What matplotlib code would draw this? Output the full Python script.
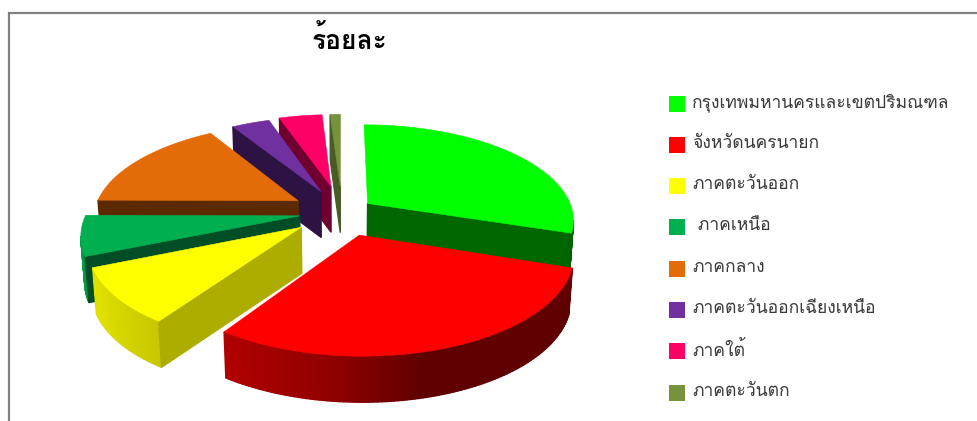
import numpy as np
import matplotlib
matplotlib.use("Agg")
import matplotlib.pyplot as plt
from matplotlib.patches import Polygon, Rectangle

plt.rcParams['font.family'] = ['Loma', 'Noto Sans Thai', 'DejaVu Sans']

title = "ร้อยละ"
labels = ["กรุงเทพมหานครและเขตปริมณฑล", "จังหวัดนครนายก", "ภาคตะวันออก", " ภาคเหนือ",
          "ภาคกลาง", "ภาคตะวันออกเฉียงเหนือ", "ภาคใต้", "ภาคตะวันตก"]
# percent of the pie
shares = [30.0, 29.5, 9.2, 6.4, 16.1, 3.6, 4.2, 1.0]
colors = ["#00ff00", "#ff0000", "#ffff00", "#00b050", "#e36c09", "#7030a0", "#ff0066", "#76923c"]
side_colors = ["#006600", "#600000", "#adad00", "#004d26", "#5b2a00", "#2c1343", "#700030", "#4a5c25"]
explode = [0.15, 0.24, 0.24, 0.20, 0.24, 0.24, 0.28, 0.27]
radius = [0.96, 0.95, 0.95, 0.995, 0.955, 0.945, 0.92, 0.93]

CX, CY = 342, 212
R = 214
TILT = 98 / R
PERSP = 0.17
DEPTH = 46


def project(x, y):
    s = 1 / (1 + PERSP * y)
    return CX + R * x * s, CY - R * TILT * y * s


def shade(rgb, f):
    return tuple(c * f for c in rgb)


def draw_slice(ax, a0, a1, share_color, side_color, off, rad):
    mid = (a0 + a1) / 2
    ox, oy = off * np.cos(mid), off * np.sin(mid)
    angles = np.linspace(a0, a1, max(int(abs(a1 - a0) * 60), 4))
    wx = np.concatenate([[ox], ox + rad * np.cos(angles)])
    wy = np.concatenate([[oy], oy + rad * np.sin(angles)])
    sx, sy = project(wx, wy)
    # bottom rim pulled in slightly, the perspective narrows downwards
    bx = CX + (sx - CX) * 0.985
    by = sy + DEPTH
    rgb = matplotlib.colors.to_rgb(share_color)
    n = len(sx)
    # walk counterclockwise, an edge heading to +x faces the viewer
    for i in range(n):
        j = (i + 1) % n
        radial = i == 0 or j == 0
        if sx[j] - sx[i] <= (6 if radial else 0):
            continue
        if radial:
            col = side_color
        else:
            f = np.clip(0.55 - 0.32 * wx[i] / (1.0 if wx[i] < 0 else 0.55), 0.38, 0.88)
            col = shade(rgb, f)
        ax.add_patch(Polygon([(sx[i], sy[i]), (sx[j], sy[j]), (bx[j], by[j]), (bx[i], by[i])],
                             closed=True, fc=col, ec=col, lw=1.0))
    ax.add_patch(Polygon(np.column_stack([sx, sy]), closed=True, fc=share_color, ec=share_color, lw=0.4))


fig = plt.figure(figsize=(9.78, 4.21), dpi=100)
ax = fig.add_axes([0, 0, 1, 1])
ax.set_xlim(0, 978)
ax.set_ylim(421, 0)
ax.axis("off")

# frame of the screenshot
ax.plot([8.5, 8.5, 978], [421, 12.5, 12.5], color="#808080", lw=1.6, solid_joinstyle="miter")

# slices run clockwise from 12 o'clock
fracs = np.array(shares) / sum(shares)
starts = np.pi / 2 - 2 * np.pi * np.concatenate([[0], np.cumsum(fracs)[:-1]])
ends = starts - 2 * np.pi * fracs
slices = list(zip(ends, starts, colors, side_colors, explode, radius))
# back slices first, then by distance towards the viewer
draw_order = [7, 6, 5, 4, 0, 3, 2, 1]
for k in draw_order:
    draw_slice(ax, *slices[k])

ax.text(350, 40, title, fontsize=19, fontweight="bold", ha="center", va="center", color="#000000")

legend_top = 103.5
legend_gap = 41.3
for i, (name, col) in enumerate(zip(labels, colors)):
    y = legend_top + i * legend_gap
    ax.add_patch(Rectangle((669, y - 8), 16, 16, fc=col, ec="none"))
    ax.text(692, y - 1, name, fontsize=12.6, ha="left", va="center", color="#3a3a3a")

fig.savefig("out.png", dpi=100)
